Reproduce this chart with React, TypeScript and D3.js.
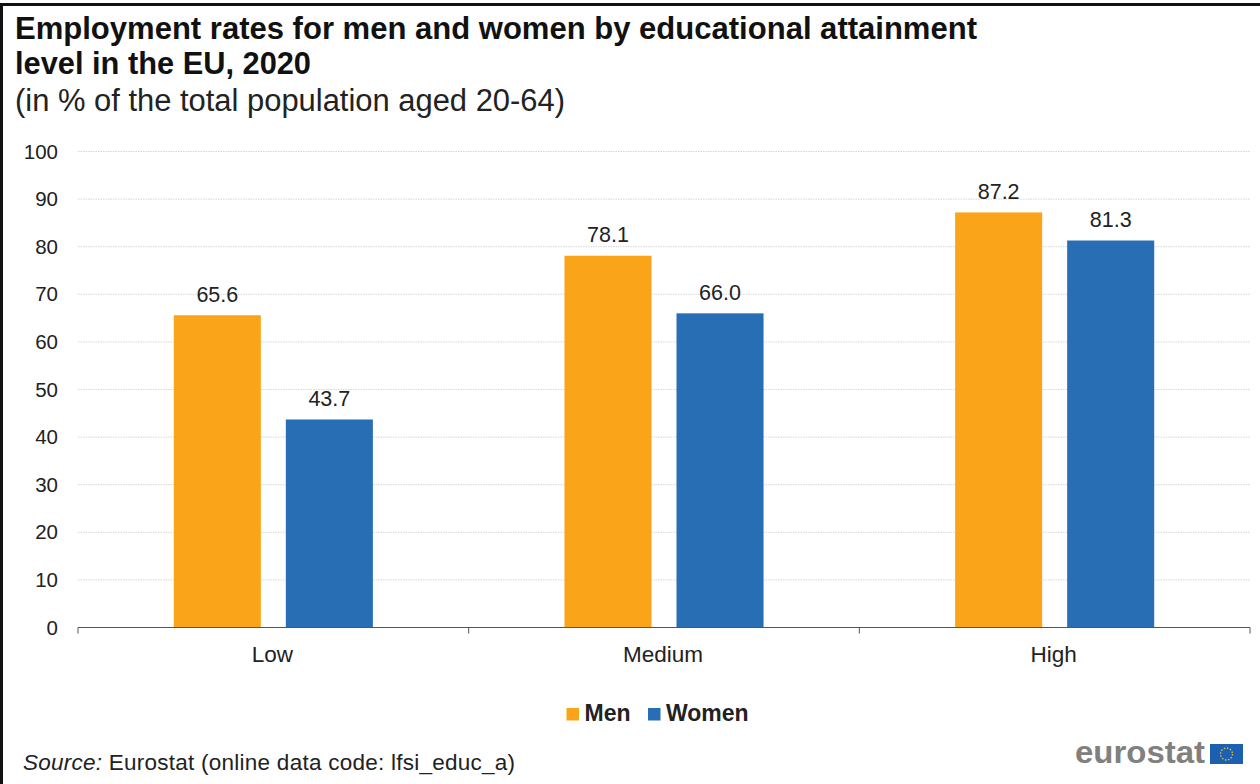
import React from "react";
import * as d3 from "d3";

const titleLines = [
  "Employment rates for men and women by educational attainment",
  "level in the EU, 2020",
];
const subtitle = "(in % of the total population aged 20-64)";
const categories = ["Low", "Medium", "High"];
const seriesNames = ["Men", "Women"];
const menValues = [65.6, 78.1, 87.2];
const womenValues = [43.7, 66.0, 81.3];
const valueTicks = [0, 10, 20, 30, 40, 50, 60, 70, 80, 90, 100];
const seriesColors = ["#faa519", "#286eb4"];
const FONT = "'Liberation Sans', Arial, sans-serif";

const WIDTH = 1260;
const HEIGHT = 784;

export default function App() {
  const y = d3.scaleLinear().domain([0, 100]).range([627.5, 151.5]);
  const x = d3.scaleBand().domain(categories).range([78, 1250]);
  const inner = d3
    .scaleBand()
    .domain(seriesNames)
    .range([0, x.bandwidth()])
    .paddingInner(0.223)
    .paddingOuter(0.855);
  const seriesValues = [menValues, womenValues];
  const tickEdges = [...categories.map((c) => x(c) as number), 1250];

  return (
    <svg
      width={WIDTH}
      height={HEIGHT}
      viewBox={`0 0 ${WIDTH} ${HEIGHT}`}
      style={{ position: "absolute", left: 0, top: 0, background: "#fff" }}
      fontFamily={FONT}
    >
      {/* frame: top and left rules */}
      <line x1={0} x2={WIDTH} y1={4.5} y2={4.5} stroke="#111" strokeWidth={3} />
      <line x1={1.5} x2={1.5} y1={3} y2={HEIGHT} stroke="#111" strokeWidth={3} />

      <text x={15} y={39} fontSize={31} fontWeight={700} fill="#111" textLength={962} lengthAdjust="spacingAndGlyphs">
        {titleLines[0]}
      </text>
      <text x={15} y={74} fontSize={31} fontWeight={700} fill="#111" textLength={296} lengthAdjust="spacingAndGlyphs">
        {titleLines[1]}
      </text>
      <text x={15} y={111} fontSize={31} fill="#222" textLength={550} lengthAdjust="spacingAndGlyphs">
        {subtitle}
      </text>

      {/* gridlines and value axis */}
      {valueTicks.map((t) => (
        <g key={t}>
          {t > 0 && (
            <line x1={78} x2={1250} y1={y(t)} y2={y(t)} stroke="#d6d6d6" strokeWidth={1} strokeDasharray="1.5 1" />
          )}
          <text x={58} y={y(t) + 7} fontSize={20.5} textAnchor="end" fill="#222">
            {t}
          </text>
        </g>
      ))}

      {/* bars with value labels */}
      {categories.map((c, ci) =>
        seriesNames.map((s, si) => {
          const v = seriesValues[si][ci];
          const bx = (x(c) as number) + (inner(s) as number);
          return (
            <g key={c + s}>
              <rect x={bx} y={y(v)} width={inner.bandwidth()} height={y(0) - y(v)} fill={seriesColors[si]} />
              <text x={bx + inner.bandwidth() / 2} y={y(v) - 13.5} fontSize={21.5} textAnchor="middle" fill="#222">
                {v.toFixed(1)}
              </text>
            </g>
          );
        })
      )}

      {/* category axis */}
      <line x1={78} x2={1250} y1={y(0)} y2={y(0)} stroke="#555" strokeWidth={1.2} />
      {tickEdges.map((e) => (
        <line key={e} x1={e} x2={e} y1={y(0)} y2={y(0) + 6} stroke="#555" strokeWidth={1} />
      ))}
      {categories.map((c) => (
        <text key={c} x={(x(c) as number) + x.bandwidth() / 2 - 1} y={661.5} fontSize={22.5} textAnchor="middle" fill="#222">
          {c}
        </text>
      ))}

      {/* legend */}
      <rect x={566.5} y={708} width={12.5} height={12.5} fill={seriesColors[0]} />
      <text x={584.5} y={721} fontSize={23} fontWeight={700} fill="#222">
        {seriesNames[0]}
      </text>
      <rect x={648} y={708} width={12.5} height={12.5} fill={seriesColors[1]} />
      <text x={666} y={721} fontSize={23} fontWeight={700} fill="#222">
        {seriesNames[1]}
      </text>

      {/* source note */}
      <text x={23} y={770} fontSize={22.5} fill="#222" textLength={492}>
        <tspan fontStyle="italic">Source:</tspan>
        <tspan> Eurostat (online data code: lfsi_educ_a)</tspan>
      </text>

      {/* eurostat wordmark with flag */}
      <text x={1075} y={763} fontSize={31} fontWeight={700} fill="#808080" textLength={130} lengthAdjust="spacingAndGlyphs">
        eurostat
      </text>
      <rect x={1210} y={744} width={33} height={20} fill="#1d5fb0" />
      <circle cx={1226.5} cy={754} r={6} fill="none" stroke="#d6c94a" strokeWidth={1.3} strokeDasharray="1.5 1.6" />
    </svg>
  );
}
